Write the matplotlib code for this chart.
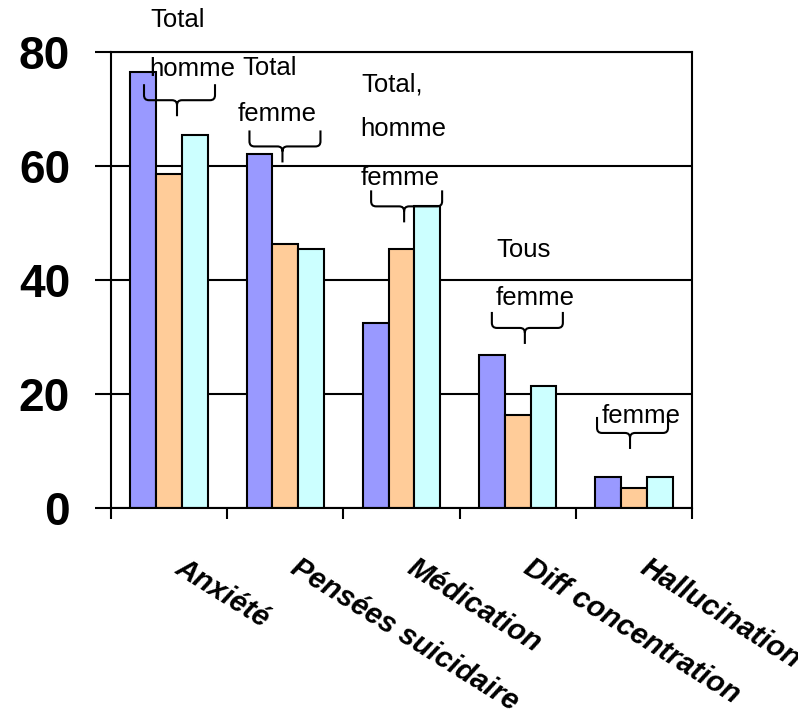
# -*- coding: utf-8 -*-
"""
Bar chart: symptoms by group, with brace annotations
"""

import numpy as np
import matplotlib.pyplot as plt
import matplotlib.path as mpath
import matplotlib.patches as mpatches
import matplotlib.transforms as mtransforms

plt.rcParams['font.family'] = ['Liberation Sans', 'DejaVu Sans']

categories = ['Anxiété', 'Pensées suicidaire', 'Médication', 'Diff concentration', 'Hallucination']
total = [76.5, 62.0, 32.5, 26.9, 5.4]
homme = [58.6, 46.3, 45.5, 16.4, 3.6]
femme = [65.4, 45.5, 52.9, 21.5, 5.4]
colors = ['#9999FF', '#FFCC99', '#CCFFFF']

# annotation texts (label, x, y baseline) and braces (x centre, y of the bar line)
notes = [('Total', -0.164, 84.3), ('homme', -0.173, 75.7),
         ('Total', 0.627, 76.0), ('femme', 0.593, 67.8),
         ('Total,', 1.657, 73.1), ('homme', 1.649, 65.2), ('femme', 1.649, 56.7),
         ('Tous', 2.819, 44.1), ('femme', 2.813, 35.7),
         ('femme', 3.723, 14.9)]
braces = [(0.0895, 71.5), (0.997, 63.4), (2.044, 52.9), (3.083, 31.6), (3.988, 13.2)]

fig = plt.figure(figsize=(7.98, 7.12), dpi=100)
ax = fig.add_axes([0.1391, 0.2861, 0.7281, 0.6413])

x = np.arange(len(categories))
w = 0.2222
for k, vals in enumerate([total, homme, femme]):
    ax.bar(x + (k - 1) * w, vals, w, color=colors[k], edgecolor='black', linewidth=1.5, zorder=2)

ax.set_xlim(-0.5, 4.5)
ax.set_ylim(0, 80)
ax.set_axisbelow(True)
ax.yaxis.grid(True, color='black', linewidth=1.5)
for s in ax.spines.values():
    s.set_linewidth(1.5)
    s.set_color('black')

ax.set_yticks([0, 20, 40, 60, 80])
ax.tick_params(axis='y', direction='out', length=11.5, width=1.5, pad=18,
               labelsize=33)
for lab in ax.get_yticklabels():
    lab.set_fontweight('bold')

ax.set_xticks(x)
ax.set_xticklabels([])
ax.tick_params(axis='x', which='major', length=0)
ax.set_xticks(np.arange(-0.5, 5, 1), minor=True)
ax.tick_params(axis='x', which='minor', direction='out', length=8, width=1.5)

# rotated category labels
trans = ax.get_xaxis_transform()
for i, c in enumerate(categories):
    ax.text(i + 0.035, -0.1395, c, transform=trans, rotation=-32, rotation_mode='anchor',
            ha='left', va='baseline', fontsize=21, fontweight='bold', fontstyle='italic')

for t, tx, ty in notes:
    ax.text(tx, ty, t, fontsize=18.5, ha='left', va='baseline', zorder=4, clip_on=False)

# curly brace shape in inches, opening upward, stem down
hw, up, dn, r, so = 0.355, 0.16, 0.16, 0.05, -0.025
verts = [(-hw, up), (-hw, r), (-hw, 0), (-hw + r, 0), (so - r, 0), (so, 0), (so, -r), (so, -dn),
         (so, -r), (so, 0), (so + r, 0), (hw - r, 0), (hw, 0), (hw, r), (hw, up)]
P = mpath.Path
codes = [P.MOVETO, P.LINETO, P.CURVE3, P.CURVE3, P.LINETO, P.CURVE3, P.CURVE3, P.LINETO,
         P.MOVETO, P.CURVE3, P.CURVE3, P.LINETO, P.CURVE3, P.CURVE3, P.LINETO]
brace_path = P(verts, codes)
for bx, by in braces:
    tr = fig.dpi_scale_trans + mtransforms.ScaledTranslation(bx, by, ax.transData)
    ax.add_patch(mpatches.PathPatch(brace_path, transform=tr, facecolor='none',
                                    edgecolor='black', linewidth=1.5, zorder=4, clip_on=False))

plt.savefig('out.png', dpi=100)
